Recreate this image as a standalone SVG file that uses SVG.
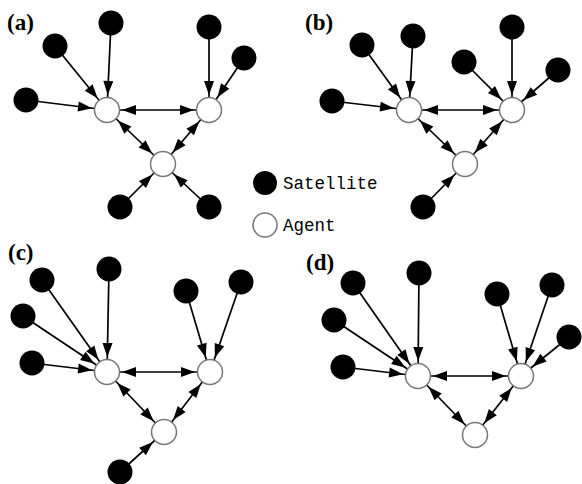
<svg xmlns="http://www.w3.org/2000/svg" width="582" height="484" viewBox="0 0 582 484">
<style>
.sat{fill:#000}
.agent{fill:#fff;stroke:#777;stroke-width:1.5}
.e{stroke:#000;stroke-width:1.7;fill:none;marker-end:url(#ah)}
.b{marker-start:url(#ah)}
.lab{font-family:"Liberation Serif",serif;font-weight:bold;font-size:23px;fill:#000}
.leg{font-family:"Liberation Mono",monospace;font-size:17.5px;fill:#000}
</style>
<defs>
<marker id="ah" markerUnits="userSpaceOnUse" orient="auto-start-reverse" refX="29" refY="0" markerWidth="30" markerHeight="12" overflow="visible">
<path d="M0,-5 L14,0 L0,5 z" fill="#000"/>
</marker>
</defs>
<rect width="582" height="484" fill="#fff"/>
<g id="connectors">
<!-- a -->
<line class="e" x1="111" y1="23" x2="107" y2="110"/>
<line class="e" x1="55" y1="46" x2="107" y2="110"/>
<line class="e" x1="26" y1="100" x2="107" y2="110"/>
<line class="e" x1="209" y1="27" x2="209" y2="110"/>
<line class="e" x1="244" y1="58" x2="209" y2="110"/>
<line class="e" x1="120" y1="207" x2="163" y2="164"/>
<line class="e" x1="209" y1="207" x2="163" y2="164"/>
<line class="e b" x1="107" y1="110" x2="209" y2="110"/>
<line class="e b" x1="107" y1="110" x2="163" y2="164"/>
<line class="e b" x1="209" y1="110" x2="163" y2="164"/>
<!-- b -->
<line class="e" x1="362" y1="45" x2="409" y2="110"/>
<line class="e" x1="413" y1="36" x2="409" y2="110"/>
<line class="e" x1="332" y1="101" x2="409" y2="110"/>
<line class="e" x1="464" y1="62" x2="512" y2="110"/>
<line class="e" x1="512" y1="27" x2="512" y2="110"/>
<line class="e" x1="558" y1="70" x2="512" y2="110"/>
<line class="e" x1="423" y1="207" x2="465" y2="164"/>
<line class="e b" x1="409" y1="110" x2="512" y2="110"/>
<line class="e b" x1="409" y1="110" x2="465" y2="164"/>
<line class="e b" x1="512" y1="110" x2="465" y2="164"/>
<!-- c -->
<line class="e" x1="42" y1="280" x2="107" y2="372"/>
<line class="e" x1="109" y1="269" x2="107" y2="372"/>
<line class="e" x1="23" y1="316" x2="107" y2="372"/>
<line class="e" x1="32" y1="363" x2="107" y2="372"/>
<line class="e" x1="186" y1="291" x2="210" y2="372"/>
<line class="e" x1="241" y1="282" x2="210" y2="372"/>
<line class="e" x1="120" y1="472" x2="164" y2="432"/>
<line class="e b" x1="107" y1="372" x2="210" y2="372"/>
<line class="e b" x1="107" y1="372" x2="164" y2="432"/>
<line class="e b" x1="210" y1="372" x2="164" y2="432"/>
<!-- d -->
<line class="e" x1="353" y1="283" x2="418" y2="376"/>
<line class="e" x1="419" y1="273" x2="418" y2="376"/>
<line class="e" x1="334" y1="320" x2="418" y2="376"/>
<line class="e" x1="343" y1="367" x2="418" y2="376"/>
<line class="e" x1="497" y1="294" x2="521" y2="376"/>
<line class="e" x1="552" y1="285" x2="521" y2="376"/>
<line class="e" x1="569" y1="337" x2="521" y2="376"/>
<line class="e b" x1="418" y1="376" x2="521" y2="376"/>
<line class="e b" x1="418" y1="376" x2="475" y2="435"/>
<line class="e b" x1="521" y1="376" x2="475" y2="435"/>
</g>
<!-- panel a -->
<g id="a-s1"><circle class="sat" cx="111" cy="23" r="12.5"/></g>
<g id="a-s2"><circle class="sat" cx="55" cy="46" r="12.5"/></g>
<g id="a-s3"><circle class="sat" cx="26" cy="100" r="12.5"/></g>
<g id="a-s4"><circle class="sat" cx="209" cy="27" r="12.5"/></g>
<g id="a-s5"><circle class="sat" cx="244" cy="58" r="12.5"/></g>
<g id="a-s6"><circle class="sat" cx="120" cy="207" r="12.5"/></g>
<g id="a-s7"><circle class="sat" cx="209" cy="207" r="12.5"/></g>
<g id="a-a1"><circle class="agent" cx="107" cy="110" r="12.5"/></g>
<g id="a-a2"><circle class="agent" cx="209" cy="110" r="12.5"/></g>
<g id="a-a3"><circle class="agent" cx="163" cy="164" r="12.5"/></g>
<!-- panel b -->
<g id="b-s1"><circle class="sat" cx="362" cy="45" r="12.5"/></g>
<g id="b-s2"><circle class="sat" cx="413" cy="36" r="12.5"/></g>
<g id="b-s3"><circle class="sat" cx="332" cy="101" r="12.5"/></g>
<g id="b-s4"><circle class="sat" cx="464" cy="62" r="12.5"/></g>
<g id="b-s5"><circle class="sat" cx="512" cy="27" r="12.5"/></g>
<g id="b-s6"><circle class="sat" cx="558" cy="70" r="12.5"/></g>
<g id="b-s7"><circle class="sat" cx="423" cy="207" r="12.5"/></g>
<g id="b-a1"><circle class="agent" cx="409" cy="110" r="12.5"/></g>
<g id="b-a2"><circle class="agent" cx="512" cy="110" r="12.5"/></g>
<g id="b-a3"><circle class="agent" cx="465" cy="164" r="12.5"/></g>
<!-- panel c -->
<g id="c-s1"><circle class="sat" cx="42" cy="280" r="12.5"/></g>
<g id="c-s2"><circle class="sat" cx="109" cy="269" r="12.5"/></g>
<g id="c-s3"><circle class="sat" cx="23" cy="316" r="12.5"/></g>
<g id="c-s4"><circle class="sat" cx="32" cy="363" r="12.5"/></g>
<g id="c-s5"><circle class="sat" cx="186" cy="291" r="12.5"/></g>
<g id="c-s6"><circle class="sat" cx="241" cy="282" r="12.5"/></g>
<g id="c-s7"><circle class="sat" cx="120" cy="472" r="12.5"/></g>
<g id="c-a1"><circle class="agent" cx="107" cy="372" r="12.5"/></g>
<g id="c-a2"><circle class="agent" cx="210" cy="372" r="12.5"/></g>
<g id="c-a3"><circle class="agent" cx="164" cy="432" r="12.5"/></g>
<!-- panel d -->
<g id="d-s1"><circle class="sat" cx="353" cy="283" r="12.5"/></g>
<g id="d-s2"><circle class="sat" cx="419" cy="273" r="12.5"/></g>
<g id="d-s3"><circle class="sat" cx="334" cy="320" r="12.5"/></g>
<g id="d-s4"><circle class="sat" cx="343" cy="367" r="12.5"/></g>
<g id="d-s5"><circle class="sat" cx="497" cy="294" r="12.5"/></g>
<g id="d-s6"><circle class="sat" cx="552" cy="285" r="12.5"/></g>
<g id="d-s7"><circle class="sat" cx="569" cy="337" r="12.5"/></g>
<g id="d-a1"><circle class="agent" cx="418" cy="376" r="12.5"/></g>
<g id="d-a2"><circle class="agent" cx="521" cy="376" r="12.5"/></g>
<g id="d-a3"><circle class="agent" cx="475" cy="435" r="12.5"/></g>
<!-- labels -->
<g id="labels">
<text class="lab" x="7" y="30">(a)</text>
<text class="lab" x="305" y="30">(b)</text>
<text class="lab" x="8" y="260">(c)</text>
<text class="lab" x="306" y="270">(d)</text>
</g>
<g id="legend">
<circle class="sat" cx="265" cy="183" r="12"/>
<text class="leg" x="283" y="189">Satellite</text>
<circle class="agent" cx="265" cy="225" r="12"/>
<text class="leg" x="283" y="231">Agent</text>
</g>
</svg>
